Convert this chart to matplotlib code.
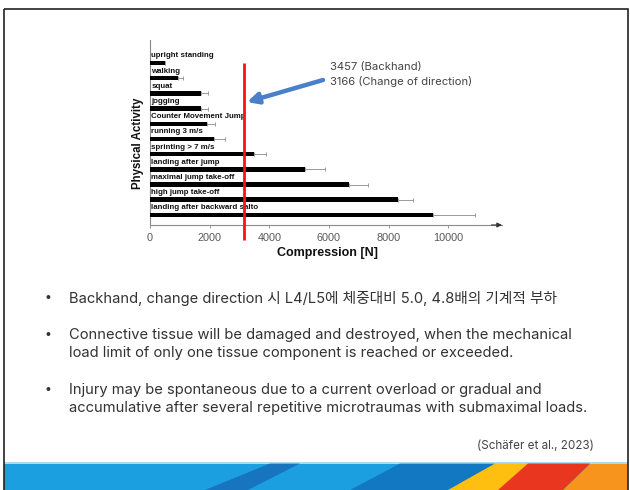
import matplotlib
matplotlib.use("Agg")
import matplotlib.pyplot as plt
from matplotlib.patches import Rectangle, Polygon
import numpy as np

# ---- data ----
activities = ["upright standing", "walking", "squat", "jogging",
              "Counter Movement Jump", "running 3 m/s", "sprinting > 7 m/s",
              "landing after jump", "maximal jump take-off",
              "high jump take-off", "landing after backward salto"]
compression = [500, 950, 1720, 1720, 1920, 2150, 3500, 5180, 6670, 8300, 9500]
sd_upper = [0, 140, 230, 230, 270, 370, 400, 680, 630, 520, 1400]
threshold = 3166
xticks = [0, 2000, 4000, 6000, 8000, 10000]
annot_lines = ["3457 (Backhand)", "3166 (Change of direction)"]
bullets = [
    ["Backhand, change direction 시 L4/L5에 체중대비 5.0, 4.8배의 기계적 부하"],
    ["Connective tissue will be damaged and destroyed, when the mechanical",
     "load limit of only one tissue component is reached or exceeded."],
    ["Injury may be spontaneous due to a current overload or gradual and",
     "accumulative after several repetitive microtraumas with submaximal loads."],
]
citation = "(Schäfer et al., 2023)"

W, H = 630, 490
fig = plt.figure(figsize=(6.3, 4.9), dpi=100)
fig.patch.set_facecolor("white")

# background / slide axes in pixel coords
bg = fig.add_axes([0, 0, 1, 1], zorder=0)
bg.set_xlim(0, W)
bg.set_ylim(H, 0)
bg.axis("off")

# banner
bt = 463
bg.add_patch(Rectangle((3.5, bt), 624, 30, facecolor="#1b9fe0", edgecolor="none"))
bg.add_patch(Rectangle((3.5, bt - 1), 624, 1.5, facecolor="#a8dcf5", edgecolor="none"))
bg.add_patch(Polygon([(205, 490), (248, 490), (300, bt + 0.5), (270, bt + 0.5)],
                     facecolor="#1464b0", alpha=0.7, edgecolor="none"))
bg.add_patch(Polygon([(350, 490), (465, 490), (495, bt + 0.5), (400, bt + 0.5)],
                     facecolor="#0d5fae", alpha=0.6, edgecolor="none"))
bg.add_patch(Polygon([(448, 490), (503, 490), (530, bt + 0.5), (495, bt + 0.5)],
                     facecolor="#ffbf10", edgecolor="none"))
bg.add_patch(Polygon([(498, 490), (563, 490), (590, bt + 0.5), (528, bt + 0.5)],
                     facecolor="#e8361f", edgecolor="none"))
bg.add_patch(Polygon([(563, 490), (627.5, 490), (627.5, bt + 0.5), (590, bt + 0.5)],
                     facecolor="#f7941d", edgecolor="none"))
# border
bg.add_patch(Rectangle((3.5, 9.5), 624, 490, facecolor="none", edgecolor="#222222", lw=1.2))

# ---- chart ----
ax = fig.add_axes([150 / W, (H - 225) / H, 352 / W, 185 / H], zorder=2)
ax.patch.set_alpha(0)
y = np.arange(len(activities))
ax.barh(y, compression, height=0.3, color="black", zorder=3)
ax.errorbar(compression, y, xerr=[np.zeros(len(y)), sd_upper], fmt="none",
            ecolor="#9a9a9a", elinewidth=0.7, capsize=1.5, capthick=0.7, zorder=2)
for yi, lab in zip(y, activities):
    ax.text(50, yi - 0.47, lab, fontsize=5.7, fontweight="bold", va="center",
            ha="left", color="#111111", family="Liberation Sans", zorder=4)

ax.set_xlim(0, 11800)
ax.set_ylim(10.66, -1.513)
ax.set_xticks(xticks)
ax.set_xticklabels([str(t) for t in xticks], fontsize=7.8, color="#595959",
                   family="Liberation Sans")
ax.tick_params(axis="x", length=2.5, width=0.6, color="#888888", pad=3)
ax.set_yticks([])
for s in ["top", "right"]:
    ax.spines[s].set_visible(False)
ax.spines["left"].set_color("#8a8a8a")
ax.spines["left"].set_linewidth(0.8)
ax.spines["bottom"].set_color("#8a8a8a")
ax.spines["bottom"].set_linewidth(0.8)
ax.annotate("", xy=(1.0, 0), xytext=(0.97, 0), xycoords="axes fraction",
            arrowprops=dict(arrowstyle="-|>", color="#333333", lw=0.8,
                            mutation_scale=7, shrinkA=0, shrinkB=0))

ax.text(0.503, -28 / 185, "Compression [N]", transform=ax.transAxes,
        fontsize=9, fontweight="bold", ha="center", va="center",
        family="Liberation Sans", color="#111111")
ax.text(-12 / 352, 82 / 185, "Physical Activity", transform=ax.transAxes,
        rotation=90, fontsize=8.3, fontweight="bold", ha="center", va="center",
        family="Liberation Sans", color="#111111")

ax.vlines(threshold, 0, 11.64, color="#ff1010", lw=2, clip_on=False, zorder=5)

# annotation arrow + text
bg.annotate("", xy=(247, 102), xytext=(323, 80),
            arrowprops=dict(arrowstyle="-|>", color="#4a7fcb", lw=3.2,
                            mutation_scale=16, shrinkA=0, shrinkB=0))
for k, t in enumerate(annot_lines):
    bg.text(330, 66.7 + 15 * k, t, fontsize=8.1, color="#444444", ha="left",
            va="center", family=["Inter", "DejaVu Sans"])

# bullets
fam = ["Inter", "Noto Sans CJK KR", "DejaVu Sans"]
rows = [[298], [335, 353], [390, 408]]
for lines, ys in zip(bullets, rows):
    bg.text(48, ys[0], "•", fontsize=9, color="#333333", ha="center", va="center",
            family=fam)
    for t, yy in zip(lines, ys):
        bg.text(69, yy, t, fontsize=10.6, color="#333333", ha="left", va="center",
                family=fam)

bg.text(594, 446, citation, fontsize=8.4, color="#444444", ha="right",
        va="center", family=fam)

fig.savefig("out.png", dpi=100)
